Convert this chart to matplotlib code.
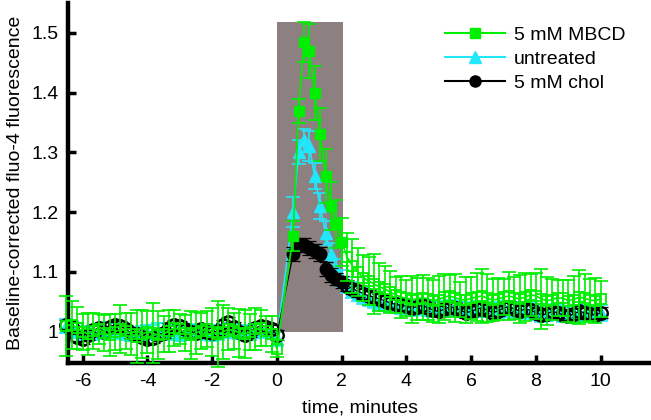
import numpy as np
import matplotlib
matplotlib.use("Agg")
import matplotlib.pyplot as plt
from matplotlib.patches import Rectangle
from matplotlib.lines import Line2D

plt.rcParams['font.family'] = ['Liberation Sans', 'DejaVu Sans']

# ---------------- data ----------------
# baseline sampled every 10 s from -6.5 min to 0; post-stimulus from 0.5 to 10 min
t_base = np.round(-6.5 + np.arange(40) / 6.0, 4)
t_post = np.round(0.5 + np.arange(58) / 6.0, 4)

chol_base = [1.012, 1.008, 0.992, 0.988, 0.995, 1.003, 1.006, 1.000, 1.008, 1.012,
             1.010, 1.004, 0.998, 0.996, 0.992, 0.988, 0.990, 0.995, 0.998, 1.006,
             1.012, 1.010, 1.004, 1.000, 0.998, 1.004, 1.000, 0.998, 1.002, 1.012,
             1.016, 1.008, 1.000, 0.995, 1.000, 1.006, 1.010, 1.008, 1.004, 0.995]
chol_post = [1.130, 1.145, 1.145, 1.140, 1.135, 1.130, 1.105, 1.095, 1.088, 1.083,
             1.077, 1.072, 1.068, 1.064, 1.060, 1.058, 1.055, 1.052, 1.048, 1.046,
             1.044, 1.043, 1.040, 1.042, 1.044, 1.040, 1.036, 1.034, 1.038, 1.042,
             1.040, 1.036, 1.032, 1.034, 1.038, 1.040, 1.036, 1.032, 1.035, 1.040,
             1.042, 1.038, 1.035, 1.038, 1.036, 1.032, 1.028, 1.030, 1.034, 1.032,
             1.028, 1.026, 1.030, 1.034, 1.032, 1.030, 1.028, 1.032]
chol_err_base = [0.008] * 40
chol_err_post = [0.012, 0.012, 0.012, 0.012, 0.012, 0.012, 0.011, 0.011, 0.010, 0.010] + [0.009] * 48

untr_base = [1.010, 1.006, 1.002, 0.998, 0.996, 0.998, 1.000, 1.002, 1.004, 1.002,
             1.000, 0.998, 0.996, 0.995, 0.997, 0.999, 1.000, 1.002, 1.003, 1.000,
             0.998, 0.996, 0.998, 1.000, 1.001, 1.000, 0.998, 0.997, 0.999, 1.001,
             1.003, 1.002, 1.000, 0.998, 0.999, 1.001, 1.003, 1.002, 1.000, 0.988]
untr_post = [1.200, 1.300, 1.320, 1.310, 1.260, 1.210, 1.165, 1.130, 1.105, 1.088,
             1.078, 1.070, 1.064, 1.060, 1.056, 1.053, 1.050, 1.048, 1.046, 1.044,
             1.043, 1.042, 1.040, 1.041, 1.042, 1.040, 1.038, 1.037, 1.038, 1.040,
             1.039, 1.037, 1.036, 1.037, 1.038, 1.039, 1.037, 1.035, 1.036, 1.038,
             1.039, 1.037, 1.035, 1.036, 1.035, 1.033, 1.030, 1.031, 1.033, 1.032,
             1.030, 1.029, 1.030, 1.032, 1.031, 1.030, 1.029, 1.031]
untr_err_base = [0.012] * 40
untr_err_post = [0.025, 0.02, 0.02, 0.025, 0.022, 0.022, 0.02, 0.018, 0.016, 0.015] + [0.013] * 48

mbcd_base = [1.010, 1.012, 1.006, 1.000, 0.996, 1.002, 1.004, 0.998, 0.994, 1.000,
             1.004, 1.002, 0.996, 0.992, 0.996, 1.000, 0.998, 0.994, 0.996, 1.002,
             1.006, 1.004, 0.998, 0.994, 0.998, 1.002, 1.004, 1.000, 0.996, 1.000,
             1.004, 1.002, 0.998, 0.996, 1.000, 1.004, 1.006, 1.002, 0.996, 0.972]
mbcd_err_base = [0.05, 0.04, 0.035, 0.03, 0.035, 0.03, 0.025, 0.03, 0.035, 0.03,
                 0.04, 0.03, 0.035, 0.045, 0.04, 0.035, 0.05, 0.04, 0.03, 0.035,
                 0.03, 0.025, 0.03, 0.04, 0.035, 0.03, 0.03, 0.04, 0.055, 0.045,
                 0.035, 0.03, 0.04, 0.04, 0.03, 0.035, 0.03, 0.025, 0.03, 0.015]
mbcd_post = [1.160, 1.370, 1.485, 1.470, 1.400, 1.330, 1.260, 1.210, 1.180, 1.150,
             1.125, 1.110, 1.100, 1.090, 1.085, 1.080, 1.075, 1.072, 1.066, 1.062,
             1.058, 1.056, 1.054, 1.055, 1.057, 1.055, 1.052, 1.054, 1.058, 1.060,
             1.057, 1.054, 1.053, 1.056, 1.058, 1.060, 1.056, 1.053, 1.055, 1.058,
             1.060, 1.057, 1.055, 1.058, 1.062, 1.060, 1.055, 1.052, 1.054, 1.057,
             1.056, 1.052, 1.054, 1.058, 1.056, 1.053, 1.052, 1.055]
mbcd_err_post = [0.025, 0.02, 0.033, 0.045, 0.045, 0.045, 0.045, 0.04, 0.04, 0.04,
                 0.04, 0.045, 0.04, 0.038, 0.04, 0.05, 0.04, 0.038, 0.035, 0.03,
                 0.035, 0.03, 0.04, 0.035, 0.038, 0.035, 0.035, 0.04, 0.038, 0.035,
                 0.04, 0.03, 0.038, 0.035, 0.04, 0.045, 0.04, 0.035, 0.035, 0.03,
                 0.04, 0.035, 0.04, 0.04, 0.035, 0.038, 0.05, 0.04, 0.035, 0.03,
                 0.03, 0.035, 0.04, 0.045, 0.04, 0.035, 0.038, 0.03]

labels = ['5 mM MBCD', 'untreated', '5 mM chol']
stim_window = (0.0, 2.0)
x_ticks = [-6, -4, -2, 0, 2, 4, 6, 8, 10]
y_ticks = [1.0, 1.1, 1.2, 1.3, 1.4, 1.5]
y_tick_labels = ['1', '1.1', '1.2', '1.3', '1.4', '1.5']

# ---------------- plot ----------------
GREEN = '#00ee00'
CYAN = '#22e6fa'
BLACK = '#000000'
GRAY = '#8c8080'
FS = 14

fig = plt.figure(figsize=(6.51, 4.20), dpi=100)
ax = fig.add_axes([0.1045, 0.136, 0.8955, 0.857])

ax.add_patch(Rectangle((stim_window[0], 1.0), stim_window[1] - stim_window[0] + 0.03, 0.518,
                       facecolor=GRAY, edgecolor='none', zorder=1))

# (base, post, err_base, err_post, colour, marker, size, line width, zorder)
series = [
    (untr_base, untr_post, untr_err_base, untr_err_post, CYAN, '^', 8.5, 1.2, 2),
    (chol_base, chol_post, chol_err_base, chol_err_post, BLACK, 'o', 9, 0.9, 3),
    (mbcd_base, mbcd_post, mbcd_err_base, mbcd_err_post, GREEN, 's', 7, 1.2, 4),
]

for base, post, eb, ep, col, mk, ms, lw, z in series:
    t = np.concatenate([t_base, t_post])
    y = np.concatenate([base, post])
    e = np.concatenate([eb, ep])
    ax.errorbar(t, y, yerr=e, color=col, lw=lw, elinewidth=lw, capsize=5, capthick=lw,
                zorder=z, clip_on=False)
    peak = (t > 0.2) & (t < 2.1)
    rest = ~peak
    if mk == '^':
        ax.plot(t, y, ls='none', marker=mk, ms=ms, mfc=col, mec=col, zorder=z + 0.1, clip_on=False)
    elif mk == 'o':
        ax.plot(t[peak], y[peak], ls='none', marker=mk, ms=ms, mfc=col, mec=col,
                zorder=z + 0.1, clip_on=False)
        ax.plot(t[rest], y[rest], ls='none', marker=mk, ms=ms, mfc='none', mec=col,
                mew=1.7, zorder=z + 0.1, clip_on=False)
    else:
        ax.plot(t[peak], y[peak], ls='none', marker=mk, ms=ms, mfc=col, mec=col,
                zorder=z + 0.1, clip_on=False)
        ax.plot(t[rest], y[rest], ls='none', marker=mk, ms=ms, mfc='none', mec=col,
                mew=1.3, zorder=z + 0.1, clip_on=False)

ax.set_xlim(-6.45, 11.55)
ax.set_ylim(0.948, 1.55)
ax.set_xticks(x_ticks)
ax.set_xticklabels([str(v) for v in x_ticks])
ax.set_yticks(y_ticks)
ax.set_yticklabels(y_tick_labels)

for s in ['top', 'right']:
    ax.spines[s].set_visible(False)
for s in ['left', 'bottom']:
    ax.spines[s].set_linewidth(3.2)
ax.tick_params(direction='in', length=6, width=2.5, labelsize=FS, pad=7)
ax.set_xlabel('time, minutes', fontsize=FS, labelpad=7)
ax.set_ylabel('Baseline-corrected fluo-4 fluorescence', fontsize=FS, labelpad=5)

handles = [
    Line2D([], [], color=GREEN, marker='s', ms=7, lw=1.5),
    Line2D([], [], color=CYAN, marker='^', ms=8.5, lw=1.5),
    Line2D([], [], color=BLACK, marker='o', ms=8, lw=1.5),
]
fig.legend(handles, labels, loc='upper left', bbox_to_anchor=(0.668, 0.96),
           frameon=False, fontsize=FS, handlelength=3.1, handletextpad=0.45,
           labelspacing=0.33, borderpad=0)

fig.savefig('out.png', dpi=100)
